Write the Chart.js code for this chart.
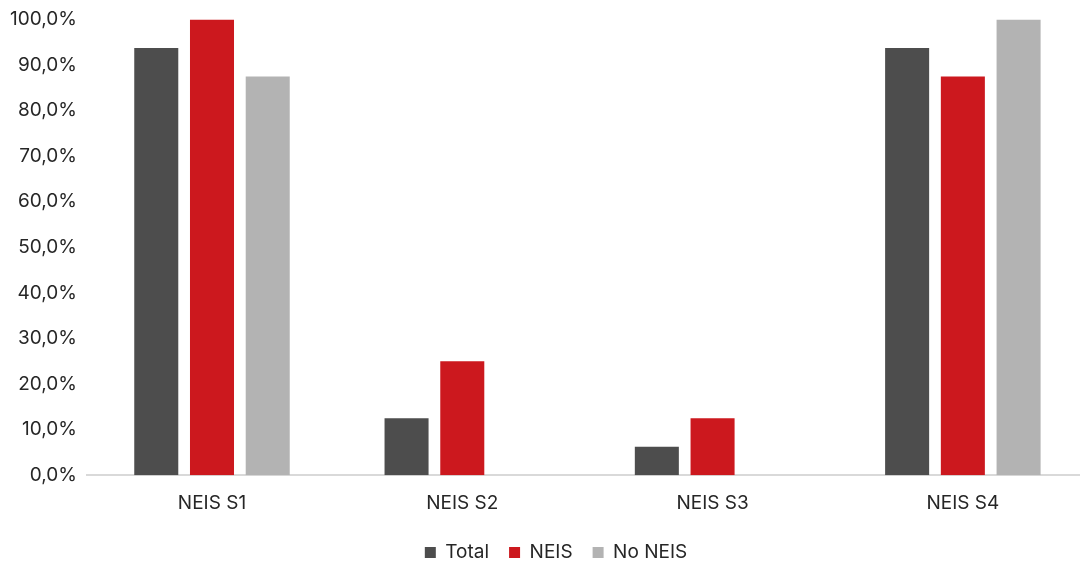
<!DOCTYPE html>
<html>
<head>
<meta charset="utf-8">
<script src="https://cdn.jsdelivr.net/npm/chart.js@4/dist/chart.umd.min.js"></script>
<style>
  html, body { margin: 0; padding: 0; background: #fff; overflow: hidden; }
  body { width: 1080px; height: 562px; }
  #wrap { width: 1112px; height: 562px; }
</style>
</head>
<body>
<div id="wrap"><canvas id="chart"></canvas></div>
<script>
'use strict';

/* data */
const categories = ['NEIS S1', 'NEIS S2', 'NEIS S3', 'NEIS S4'];
const totalValues = [93.75, 12.5, 6.25, 93.75];
const neisValues = [100, 25, 12.5, 87.5];
const noNeisValues = [87.5, 0, 0, 100];

const COLORS = {
    total: '#4d4d4d',
    neis: '#cc181e',
    noNeis: '#b3b3b3',
    text: '#262626',
    axis: '#d9d9d9',
};

const FONT = "Inter, 'Noto Sans', sans-serif";

function makeDataset(label, data, color) {
    return {
        label,
        data,
        backgroundColor: color,
        borderWidth: 0,
        barPercentage: 0.79,
        categoryPercentage: 0.668,
    };
}

// legend is centred on the page, not on the (cropped) plot
const legendShift = {
    id: 'legendShift',
    afterLayout(chart) {
        if (!chart.legend) return;
        chart.legend.left += 12;
        chart.legend.right += 12;
    },
};

new Chart(document.getElementById('chart').getContext('2d'), {
    type: 'bar',
    data: {
        labels: categories,
        datasets: [
            makeDataset('Total', totalValues, COLORS.total),
            makeDataset('NEIS', neisValues, COLORS.neis),
            makeDataset('No NEIS', noNeisValues, COLORS.noNeis),
        ],
    },
    plugins: [legendShift],
    options: {
        responsive: true,
        maintainAspectRatio: false,
        animation: false,
        layout: { padding: { top: 0, right: 24, left: 0, bottom: -10 } },
        plugins: {
            legend: {
                position: 'bottom',
                labels: {
                    color: COLORS.text,
                    font: { family: FONT, size: 19 },
                    boxWidth: 11,
                    boxHeight: 11,
                    padding: 20,
                },
            },
            tooltip: { enabled: false },
        },
        scales: {
            x: {
                grid: { display: false, drawTicks: false },
                border: { display: true, color: COLORS.axis, width: 2 },
                ticks: {
                    color: COLORS.text,
                    font: { family: FONT, size: 19 },
                    padding: 17,
                },
                // tighten the gap between tick labels and legend
                afterFit: scale => { scale.height -= 9; },
            },
            y: {
                min: 0,
                max: 100,
                grid: { display: false, drawTicks: false },
                border: { display: false },
                ticks: {
                    stepSize: 10,
                    color: COLORS.text,
                    font: { family: FONT, size: 19, lineHeight: 1.0 },
                    padding: 10,
                    callback: v => v.toFixed(1).replace('.', ',') + '%',
                },
            },
        },
    },
});
</script>
</body>
</html>
